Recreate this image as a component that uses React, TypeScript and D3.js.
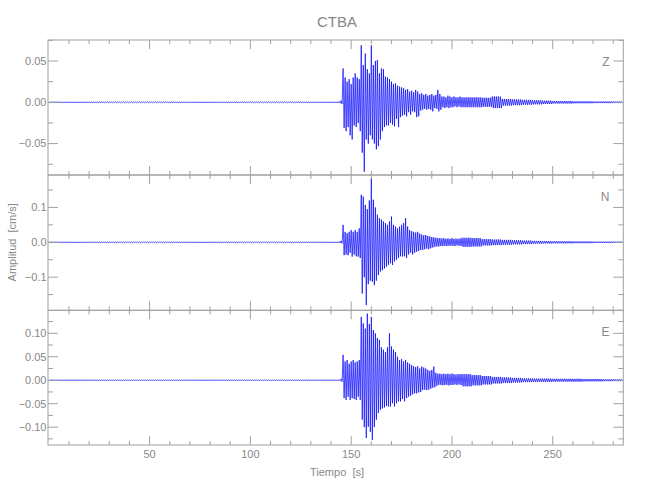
import React from "react";
import * as d3 from "d3";

// ---- Data ----
const title = "CTBA";
const xLabel = "Tiempo  [s]";
const yLabel = "Amplitud  [cm/s]";
const components = ["Z", "N", "E"];
const xTicks = [50, 100, 150, 200, 250];

// pre-event noise amplitude, bins starting at these times (s)
const preStarts = [0, 20, 40, 60, 80, 100, 120, 140];
const zPre = [0.0004, 0.0006, 0.0005, 0.0005, 0.0004, 0.0005, 0.0005, 0.0005];
const nPre = [0.0008, 0.001, 0.0012, 0.001, 0.0012, 0.001, 0.001, 0.0012];
const ePre = [0.0006, 0.0007, 0.0006, 0.0007, 0.0006, 0.0007, 0.0006, 0.0007];

// per-second envelope (max / min) from t = 144 s to 204 s
const eventStart = 144;
const zMax = [0.001,0.002,0.041,0.030,0.025,0.028,0.022,0.030,0.035,0.030,
  0.028,0.069,0.045,0.059,0.040,0.035,0.069,0.045,0.050,0.051,
  0.035,0.041,0.040,0.031,0.030,0.028,0.025,0.022,0.023,0.020,
  0.019,0.018,0.017,0.015,0.016,0.013,0.014,0.012,0.015,0.013,
  0.010,0.011,0.009,0.010,0.008,0.009,0.010,0.008,0.009,0.015,
  0.010,0.007,0.007,0.006,0.008,0.007,0.006,0.007,0.006,0.006,
  0.007];
const zMin = [-0.001,-0.002,-0.031,-0.035,-0.030,-0.040,-0.045,-0.028,-0.030,-0.025,
  -0.035,-0.061,-0.084,-0.045,-0.050,-0.040,-0.045,-0.050,-0.057,-0.053,
  -0.045,-0.035,-0.030,-0.028,-0.028,-0.025,-0.027,-0.029,-0.020,-0.030,
  -0.018,-0.016,-0.015,-0.017,-0.012,-0.015,-0.011,-0.012,-0.018,-0.017,
  -0.010,-0.009,-0.008,-0.009,-0.008,-0.009,-0.011,-0.007,-0.008,-0.011,
  -0.009,-0.006,-0.007,-0.006,-0.007,-0.006,-0.006,-0.005,-0.006,-0.005,
  -0.006];
const nMax = [0.002,0.004,0.050,0.030,0.026,0.030,0.035,0.030,0.035,0.030,
  0.040,0.136,0.131,0.107,0.095,0.120,0.184,0.122,0.100,0.079,
  0.069,0.065,0.060,0.055,0.050,0.060,0.074,0.050,0.045,0.040,
  0.045,0.050,0.055,0.069,0.045,0.035,0.032,0.030,0.028,0.030,
  0.025,0.022,0.020,0.021,0.018,0.017,0.015,0.014,0.013,0.012,
  0.012,0.011,0.012,0.010,0.011,0.010,0.012,0.010,0.011,0.010,
  0.011];
const nMin = [-0.002,-0.003,-0.037,-0.035,-0.037,-0.030,-0.041,-0.035,-0.040,-0.041,
  -0.045,-0.147,-0.100,-0.180,-0.120,-0.110,-0.113,-0.123,-0.110,-0.094,
  -0.084,-0.080,-0.075,-0.070,-0.065,-0.060,-0.065,-0.055,-0.050,-0.045,
  -0.040,-0.041,-0.040,-0.045,-0.035,-0.030,-0.035,-0.030,-0.027,-0.025,
  -0.022,-0.022,-0.020,-0.018,-0.020,-0.017,-0.015,-0.013,-0.012,-0.012,
  -0.011,-0.011,-0.010,-0.011,-0.010,-0.010,-0.010,-0.011,-0.009,-0.010,
  -0.010];
const eMax = [0.001,0.003,0.054,0.040,0.043,0.035,0.040,0.043,0.038,0.040,
  0.043,0.135,0.121,0.110,0.142,0.120,0.135,0.107,0.100,0.090,
  0.086,0.070,0.065,0.060,0.070,0.100,0.072,0.065,0.060,0.050,
  0.043,0.045,0.040,0.043,0.038,0.035,0.032,0.030,0.028,0.030,
  0.025,0.029,0.027,0.025,0.022,0.020,0.022,0.029,0.016,0.014,
  0.014,0.013,0.014,0.013,0.014,0.013,0.014,0.013,0.012,0.013,
  0.013];
const eMin = [-0.001,-0.003,-0.038,-0.042,-0.035,-0.042,-0.038,-0.040,-0.042,-0.035,
  -0.042,-0.084,-0.100,-0.123,-0.099,-0.110,-0.127,-0.100,-0.084,-0.070,
  -0.063,-0.060,-0.058,-0.055,-0.056,-0.056,-0.049,-0.056,-0.049,-0.045,
  -0.045,-0.040,-0.045,-0.038,-0.035,-0.033,-0.030,-0.028,-0.028,-0.026,
  -0.025,-0.021,-0.020,-0.021,-0.020,-0.018,-0.016,-0.015,-0.012,-0.010,
  -0.010,-0.011,-0.010,-0.010,-0.011,-0.010,-0.010,-0.009,-0.010,-0.009,
  -0.010];

// coda amplitude in 5 s bins starting at 205 s
const tailStart = 205;
const zTail = [0.006,0.006,0.0055,0.007,0.004,0.0035,0.003,0.0025,0.002,0.0015,0.0015,0.0012,0.0012,0.001,0.001,0.001];
const nTail = [0.013,0.012,0.009,0.008,0.007,0.006,0.005,0.004,0.0035,0.003,0.003,0.0025,0.0025,0.002,0.002,0.002];
const eTail = [0.013,0.011,0.009,0.007,0.006,0.005,0.004,0.0035,0.0035,0.003,0.003,0.003,0.0025,0.0025,0.002,0.002];

const xDomain = [-0.4, 285];
const zDomain = [-0.088, 0.0754];
const nDomain = [-0.195, 0.193];
const eDomain = [-0.138, 0.149];
const zMajor = [-0.05, 0, 0.05];
const nMajor = [-0.1, 0, 0.1];
const eMajor = [-0.1, -0.05, 0, 0.05, 0.1];

// ---- Layout ----
const W = 650, H = 500;
const left = 48, right = 623.3;
const panelBounds = [[40, 175], [175, 310.3], [310.3, 445]];
const axisColor = "#a0a0a0";
const textColor = "#888888";
const font = "'Liberation Sans', Arial, sans-serif";

function buildPoints(pre: number[], mx: number[], mn: number[], tail: number[]) {
  const pts: [number, number][] = [];
  let s = 1;
  pre.forEach((a, i) => {
    const start = preStarts[i];
    const end = i < preStarts.length - 1 ? preStarts[i + 1] : eventStart;
    for (let t = start; t < end; t += 0.5) { pts.push([t, s * a]); s = -s; }
  });
  mx.forEach((v, i) => {
    const t = eventStart + i;
    pts.push([t, v]);
    pts.push([t + 0.5, mn[i]]);
  });
  tail.forEach((a, i) => {
    const start = tailStart + 5 * i;
    const end = Math.min(start + 5, xDomain[1]);
    for (let t = start; t < end; t += 0.5) { pts.push([t, s * a]); s = -s; }
  });
  return pts;
}

export default function App() {
  const x = d3.scaleLinear().domain(xDomain).range([left, right]);
  const panels = [
    { label: components[0], domain: zDomain, major: zMajor, minorStep: 0.025, fmt: d3.format(".2f"), pts: buildPoints(zPre, zMax, zMin, zTail) },
    { label: components[1], domain: nDomain, major: nMajor, minorStep: 0.05, fmt: d3.format(".1f"), pts: buildPoints(nPre, nMax, nMin, nTail) },
    { label: components[2], domain: eDomain, major: eMajor, minorStep: 0.025, fmt: d3.format(".2f"), pts: buildPoints(ePre, eMax, eMin, eTail) },
  ];
  const xMinor = d3.range(10, 285, 10).filter((t) => t % 50 !== 0);

  return (
    <svg width={W} height={H} style={{ position: "absolute", left: 0, top: 0, background: "#fff" }}>
      <text x={337} y={27} textAnchor="middle" fontFamily={font} fontSize={15} fill={textColor}>{title}</text>
      {panels.map((p, pi) => {
        const [top, bot] = panelBounds[pi];
        const y = d3.scaleLinear().domain(p.domain).range([bot, top]);
        const minors = d3.range(Math.ceil(p.domain[0] / p.minorStep) * p.minorStep, p.domain[1], p.minorStep)
          .filter((v) => !p.major.some((m) => Math.abs(m - v) < 1e-9));
        const line = d3.line<[number, number]>().x((d) => x(d[0])).y((d) => y(d[1]));
        return (
          <g key={p.label}>
            <defs>
              <clipPath id={`clip${pi}`}><rect x={left} y={top} width={right - left} height={bot - top} /></clipPath>
            </defs>
            <path d={line(p.pts) || ""} fill="none" stroke="#0000ff" strokeWidth={0.7} clipPath={`url(#clip${pi})`} />
            <rect x={left} y={top} width={right - left} height={bot - top} fill="none" stroke={axisColor} strokeWidth={1} />
            {p.major.map((v) => (
              <g key={`M${v}`}>
                <line x1={left} x2={left + 10} y1={y(v)} y2={y(v)} stroke={axisColor} />
                <line x1={right} x2={right - 10} y1={y(v)} y2={y(v)} stroke={axisColor} />
                <text x={left - 1.5} y={y(v)} dy="0.35em" textAnchor="end" fontFamily={font} fontSize={11} fill={textColor}>{p.fmt(v)}</text>
              </g>
            ))}
            {minors.map((v) => (
              <g key={`m${v}`}>
                <line x1={left} x2={left + 5} y1={y(v)} y2={y(v)} stroke={axisColor} />
                <line x1={right} x2={right - 5} y1={y(v)} y2={y(v)} stroke={axisColor} />
              </g>
            ))}
            {xTicks.map((t) => (
              <g key={`X${t}`}>
                <line x1={x(t)} x2={x(t)} y1={top} y2={top + 9} stroke={axisColor} />
                <line x1={x(t)} x2={x(t)} y1={bot} y2={bot - 9} stroke={axisColor} />
              </g>
            ))}
            {xMinor.map((t) => (
              <g key={`x${t}`}>
                <line x1={x(t)} x2={x(t)} y1={top} y2={top + 4} stroke={axisColor} />
                <line x1={x(t)} x2={x(t)} y1={bot} y2={bot - 4} stroke={axisColor} />
              </g>
            ))}
            <text x={609.5} y={top + 25.7} textAnchor="end" fontFamily={font} fontSize={12} fill={textColor}>{p.label}</text>
          </g>
        );
      })}
      {xTicks.map((t) => (
        <text key={`xl${t}`} x={x(t)} y={457.5} textAnchor="middle" fontFamily={font} fontSize={11} fill={textColor}>{t}</text>
      ))}
      <text x={337} y={476} textAnchor="middle" fontFamily={font} fontSize={11} fill={textColor} style={{ whiteSpace: "pre" }}>{xLabel}</text>
      <text transform="translate(15.5,242.3) rotate(-90)" textAnchor="middle" fontFamily={font} fontSize={11} fill={textColor} style={{ whiteSpace: "pre" }}>{yLabel}</text>
    </svg>
  );
}
